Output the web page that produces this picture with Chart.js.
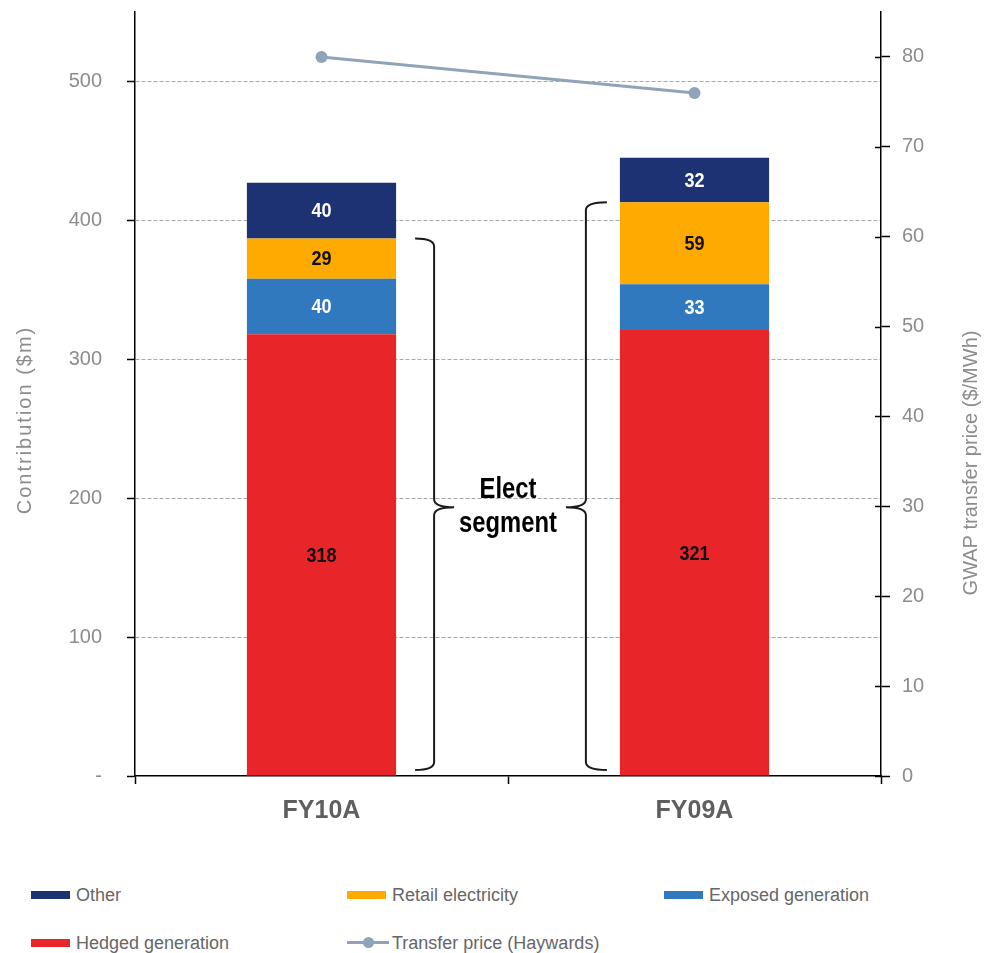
<!DOCTYPE html>
<html>
<head>
<meta charset="utf-8">
<script src="https://cdn.jsdelivr.net/npm/chart.js@4.4.1/dist/chart.umd.min.js"></script>
<style>
  body { margin: 0; background: #fff; }
  #wrap { position: relative; width: 984px; height: 953px; overflow: hidden; }
  #chart { position: absolute; left: 0; top: 0; }
  .leg { position: absolute; height: 20px; font: 18px "Liberation Sans", Arial, sans-serif; color: #666; white-space: nowrap; line-height: 20px; }
  .leg .box { position: absolute; left: 0; top: 6px; width: 39px; height: 8px; }
  .leg .ln { position: absolute; left: 0; top: 8px; width: 42px; height: 3px; }
  .leg .dot { position: absolute; left: 16px; top: 4px; width: 11px; height: 11px; border-radius: 50%; }
  .leg span { position: absolute; left: 45px; top: 0; }
</style>
</head>
<body>
<div id="wrap">
  <canvas id="chart" width="984" height="860"></canvas>
  <div id="legend"></div>
</div>
<script>
const categories = ['FY10A', 'FY09A'];
const hedgedGeneration = [318, 321];
const exposedGeneration = [40, 33];
const retailElectricity = [29, 59];
const otherContribution = [40, 32];
const transferPrice = [80, 76];

const colors = {
  hedged: '#E8262A',
  exposed: '#3179BE',
  retail: '#FFAA00',
  other: '#1C3272',
  line: '#8FA4B8'
};

const sans = '"Liberation Sans", Arial, sans-serif';

// elect segment = hedged + exposed + retail
const electSegment = categories.map((_, i) => hedgedGeneration[i] + exposedGeneration[i] + retailElectricity[i]);

const labelColors = ['#111', '#fff', '#111', '#fff'];

// condensed text, the original uses a narrow face
function narrowText(ctx, text, x, y, squeeze) {
  ctx.save();
  ctx.translate(x, y);
  ctx.scale(squeeze, 1);
  ctx.fillText(text, 0, 0);
  ctx.restore();
}

const annotations = {
  id: 'annotations',
  afterDatasetsDraw(chart) {
    const ctx = chart.ctx;
    const y = chart.scales.y;
    const area = chart.chartArea;

    // values inside the bar segments
    ctx.save();
    ctx.font = 'bold 21px ' + sans;
    ctx.textAlign = 'center';
    ctx.textBaseline = 'middle';
    chart.data.datasets.forEach((ds, di) => {
      if (ds.type === 'line') return;
      const meta = chart.getDatasetMeta(di);
      meta.data.forEach((bar, i) => {
        ctx.fillStyle = labelColors[di];
        narrowText(ctx, ds.data[i], bar.x, (bar.y + bar.base) / 2 + 1, 0.86);
      });
    });
    ctx.restore();

    // braces for the elect segment
    const bars = chart.getDatasetMeta(0).data;
    const bottom = y.getPixelForValue(0) - 6;
    const mid = y.getPixelForValue(electSegment[0] / 2);
    const drawBrace = (xEnd, xV, xTip, top) => {
      const r = 8;
      ctx.beginPath();
      ctx.moveTo(xEnd, top);
      ctx.quadraticCurveTo(xV, top, xV, top + r);
      ctx.lineTo(xV, mid - r);
      ctx.quadraticCurveTo(xV, mid, xTip, mid);
      ctx.quadraticCurveTo(xV, mid, xV, mid + r);
      ctx.lineTo(xV, bottom - r);
      ctx.quadraticCurveTo(xV, bottom, xEnd, bottom);
      ctx.stroke();
    };
    ctx.save();
    ctx.strokeStyle = '#1a1a1a';
    ctx.lineWidth = 2;
    const b0 = bars[0], b1 = bars[1];
    const r0 = b0.x + b0.width / 2;
    const l1 = b1.x - b1.width / 2;
    drawBrace(r0 + 19, r0 + 38, r0 + 58, y.getPixelForValue(electSegment[0]));
    drawBrace(l1 - 13, l1 - 34, l1 - 54, y.getPixelForValue(electSegment[1]));

    ctx.fillStyle = '#000';
    ctx.font = 'bold 29px ' + sans;
    ctx.textAlign = 'center';
    ctx.textBaseline = 'middle';
    const cx = (area.left + area.right) / 2;
    narrowText(ctx, 'Elect', cx, mid - 17, 0.82);
    narrowText(ctx, 'segment', cx, mid + 17, 0.82);
    ctx.restore();
  },
  afterDraw(chart) {
    const ctx = chart.ctx;
    const area = chart.chartArea;
    const y1 = chart.scales.y1;

    // right axis ticks cross the axis line
    ctx.save();
    ctx.strokeStyle = '#000';
    ctx.lineWidth = 1.5;
    y1.ticks.forEach(t => {
      const py = Math.round(y1.getPixelForValue(t.value)) + 0.5;
      ctx.beginPath();
      ctx.moveTo(area.right - 6, py);
      ctx.lineTo(area.right, py);
      ctx.stroke();
    });

    // axis titles, both read bottom to top
    ctx.fillStyle = '#8c8c8c';
    ctx.font = '20px ' + sans;
    ctx.textAlign = 'center';
    ctx.textBaseline = 'middle';
    ctx.save();
    ctx.translate(25, 420);
    ctx.rotate(-Math.PI / 2);
    ctx.letterSpacing = '2px';
    ctx.fillText('Contribution ($m)', 0, 0);
    ctx.restore();
    ctx.save();
    ctx.translate(971, 463);
    ctx.rotate(-Math.PI / 2);
    ctx.fillText('GWAP transfer price ($/MWh)', 0, 0);
    ctx.restore();
    ctx.restore();
  }
};

const noScalePadding = s => { s.paddingTop = 0; s.paddingBottom = 0; };

const chart = new Chart(document.getElementById('chart'), {
  type: 'bar',
  data: {
    labels: categories,
    datasets: [
      { label: 'Hedged generation', data: hedgedGeneration, backgroundColor: colors.hedged, order: 1 },
      { label: 'Exposed generation', data: exposedGeneration, backgroundColor: colors.exposed, order: 1 },
      { label: 'Retail electricity', data: retailElectricity, backgroundColor: colors.retail, order: 1 },
      { label: 'Other', data: otherContribution, backgroundColor: colors.other, order: 1 },
      {
        type: 'line',
        label: 'Transfer price (Haywards)',
        data: transferPrice,
        yAxisID: 'y1',
        borderColor: colors.line,
        backgroundColor: colors.line,
        borderWidth: 3,
        pointRadius: 6,
        pointBorderWidth: 0,
        pointBackgroundColor: colors.line,
        order: 0
      }
    ]
  },
  options: {
    responsive: false,
    animation: false,
    categoryPercentage: 1,
    barPercentage: 0.4,
    layout: { padding: { top: 12, left: 0, right: 0, bottom: 0 } },
    plugins: {
      legend: { display: false },
      tooltip: { enabled: false }
    },
    scales: {
      x: {
        stacked: true,
        grid: { offset: true, drawOnChartArea: false, tickLength: 8, tickColor: '#000', tickWidth: 1.5 },
        border: { color: '#000', width: 1.5 },
        ticks: { color: '#5f5f5f', font: { family: sans, size: 25, weight: 'bold' }, padding: 12 },
        afterFit: s => { s.height = 84; s.paddingLeft = 0; s.paddingRight = 0; }
      },
      y: {
        stacked: true,
        min: 0,
        max: 550,
        afterBuildTicks: s => { s.ticks = s.ticks.filter(t => t.value <= 500); },
        ticks: {
          stepSize: 100,
          padding: 25,
          color: '#8c8c8c',
          font: { family: sans, size: 20 },
          callback: v => v === 0 ? '-' : v
        },
        grid: {
          color: c => (c.tick && c.tick.value > 0) ? '#a8a8a8' : 'rgba(0,0,0,0)',
          tickColor: '#000',
          tickLength: 8,
          tickWidth: 1.5,
          tickBorderDash: []
        },
        border: { color: '#000', width: 1.5, dash: [4, 2] },
        afterFit: s => { s.width = 135; noScalePadding(s); }
      },
      y1: {
        position: 'right',
        min: 0,
        max: 85,
        afterBuildTicks: s => { s.ticks = s.ticks.filter(t => t.value <= 80); },
        ticks: {
          stepSize: 10,
          padding: 12,
          color: '#8c8c8c',
          font: { family: sans, size: 20 }
        },
        grid: { drawOnChartArea: false, tickColor: '#000', tickLength: 9, tickWidth: 1.5 },
        border: { color: '#000', width: 1.5 },
        afterFit: s => { s.width = 103; noScalePadding(s); }
      }
    }
  },
  plugins: [annotations]
});

// legend laid out in three columns like the original
const legendItems = [
  { text: 'Other', color: colors.other, x: 31, y: 885 },
  { text: 'Retail electricity', color: colors.retail, x: 347, y: 885 },
  { text: 'Exposed generation', color: colors.exposed, x: 664, y: 885 },
  { text: 'Hedged generation', color: colors.hedged, x: 31, y: 933 },
  { text: 'Transfer price (Haywards)', color: colors.line, x: 347, y: 933, line: true }
];
const legend = document.getElementById('legend');
legendItems.forEach(item => {
  const el = document.createElement('div');
  el.className = 'leg';
  el.style.left = item.x + 'px';
  el.style.top = item.y + 'px';
  if (item.line) {
    el.innerHTML = '<div class="ln" style="background:' + item.color + '"></div>' +
      '<div class="dot" style="background:' + item.color + '"></div>';
  } else {
    el.innerHTML = '<div class="box" style="background:' + item.color + '"></div>';
  }
  const span = document.createElement('span');
  span.textContent = item.text;
  el.appendChild(span);
  legend.appendChild(el);
});
</script>
</body>
</html>
